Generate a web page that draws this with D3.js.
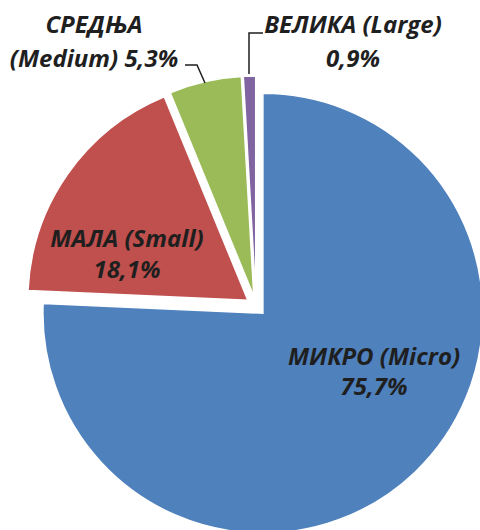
<!DOCTYPE html>
<html>
<head>
<meta charset="utf-8">
<script src="https://cdn.jsdelivr.net/npm/d3@7"></script>
<style>
  body { margin: 0; background: #fff; }
  svg text { font-family: "Open Sans", "Noto Sans", sans-serif; font-weight: bold; font-style: italic; fill: #1f1f1f; }
</style>
</head>
<body>
<svg id="chart"></svg>
<script>
// firm size shares
const names = ["МИКРО (Micro)", "МАЛА (Small)", "СРЕДЊА (Medium)", "ВЕЛИКА (Large)"];
const values = [75.7, 18.1, 5.3, 0.9];
const valueLabels = ["75,7%", "18,1%", "5,3%", "0,9%"];
const cols = ["#4f81bd", "#c0504d", "#9bbb59", "#8064a2"];

// label lines and where they sit (centre x, first baseline, line gap)
const labelLines = [
    ["МИКРО (Micro)", "75,7%"],
    ["МАЛА (Small)", "18,1%"],
    ["СРЕДЊА", "(Medium) 5,3%"],
    ["ВЕЛИКА (Large)", "0,9%"]
];
const labelPos = [[374, 365, 30], [127, 247, 31], [94, 33, 34], [353, 33, 34]];

const width = 480;
const height = 530;
const cx = 256, cy = 306;
const radius = 220;
const explode = 10;

const svg = d3.select("#chart").attr("width", width).attr("height", height);
const g = svg.append("g").attr("transform", `translate(${cx},${cy})`);

const pie = d3.pie().sort(null).value(d => d);
const arcs = pie(values);
const arc = d3.arc().innerRadius(0).outerRadius(radius);

g.selectAll("path")
    .data(arcs)
    .enter()
    .append("path")
    .attr("d", arc)
    .attr("fill", (d, i) => cols[i])
    .attr("stroke", "#fff")
    .attr("stroke-width", 1.5)
    .attr("transform", d => {
        const a = (d.startAngle + d.endAngle) / 2;
        return `translate(${explode * Math.sin(a)},${-explode * Math.cos(a)})`;
    });

// leader lines for the small slices
const leaders = [
    [[185, 65], [197, 65], [205, 83]],
    [[263, 33], [249, 33], [249, 74]]
];
svg.selectAll("polyline")
    .data(leaders)
    .enter()
    .append("polyline")
    .attr("points", d => d.map(p => p.join(",")).join(" "))
    .attr("fill", "none")
    .attr("stroke", "#1f1f1f")
    .attr("stroke-width", 1.5);

const labels = svg.selectAll("g.lab")
    .data(labelLines)
    .enter()
    .append("g")
    .attr("class", "lab")
    .attr("transform", (d, i) => `translate(${labelPos[i][0]},${labelPos[i][1]})`);

labels.selectAll("text")
    .data((d, i) => d.map(t => ({ t, gap: labelPos[i][2] })))
    .enter()
    .append("text")
    .attr("text-anchor", "middle")
    .attr("y", (d, i) => i * d.gap)
    .style("font-size", "24px")
    .text(d => d.t);
</script>
</body>
</html>
